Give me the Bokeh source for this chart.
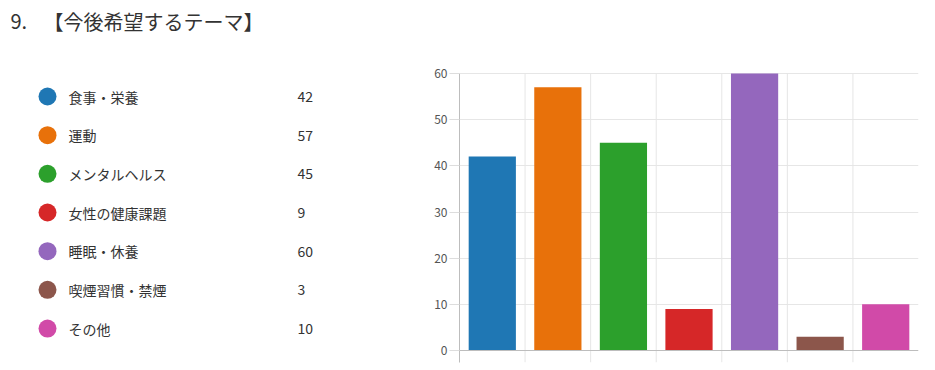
from bokeh.plotting import figure
from bokeh.layouts import row
from bokeh.models import Range1d, FixedTicker, ColumnDataSource
from bokeh.core.properties import value
from bokeh.embed import file_html
from bokeh.resources import INLINE

title_num = "9."
title_text = "【今後希望するテーマ】"
categories = ["食事・栄養", "運動", "メンタルヘルス", "女性の健康課題", "睡眠・休養", "喫煙習慣・禁煙", "その他"]
counts = [42, 57, 45, 9, 60, 3, 10]
colors = ["#1f77b4", "#e8710a", "#2ca02c", "#d62728", "#9467bd", "#8c564b", "#d14aa8"]
y_ticks = [0, 10, 20, 30, 40, 50, 60]

JP = "Noto Sans CJK JP"
n = len(categories)
H = 370
TOP60, ZERO, BOT = 73, 350, 362  # pixel rows of value 60, value 0, and frame bottom

# ---- left panel: title + legend (coordinates = pixels) ----
LW = 400
lf = figure(width=LW, height=H, x_range=Range1d(0, LW), y_range=Range1d(BOT, 0),
            output_backend="svg", toolbar_location=None,
            x_axis_location=None, y_axis_location=None,
            min_border_left=0, min_border_right=0, min_border_top=0, min_border_bottom=H - BOT)
lf.grid.visible = False
lf.outline_line_color = None

lf.text(x=[10], y=[21], text=[title_num], text_font=value(JP), text_font_size="20px",
        text_color="#333333", text_baseline="middle")
lf.text(x=[43], y=[21], text=[title_text], text_font=value(JP), text_font_size="20px",
        text_color="#333333", text_baseline="middle")

ys = [96 + i * 38.67 for i in range(n)]
src = ColumnDataSource(dict(y=ys, cat=categories, cnt=[str(c) for c in counts], col=colors,
                            xc=[47] * n, xt=[68] * n, xv=[297] * n))
lf.scatter(x="xc", y="y", size=18, fill_color="col", line_color=None, source=src)
lf.text(x="xt", y="y", text="cat", text_font=value(JP), text_font_size="14px",
        text_color="#333333", text_baseline="middle", source=src)
lf.text(x="xv", y="y", text="cnt", text_font=value(JP), text_font_size="14px",
        text_color="#333333", text_baseline="middle", source=src)

# ---- right panel: bar chart ----
RW = 935 - LW
ymax_tick = y_ticks[-1]
px_per_unit = (ZERO - TOP60) / float(ymax_tick)
ymin = -(BOT - ZERO) / px_per_unit
ymax = ymax_tick + TOP60 / px_per_unit
p = figure(width=RW, height=H, x_range=Range1d(0, n), y_range=Range1d(ymin, ymax),
           output_backend="svg", toolbar_location=None, x_axis_location=None,
           min_border_left=59, min_border_right=17, min_border_top=0, min_border_bottom=H - BOT)
p.outline_line_color = None
p.xgrid.visible = False
p.ygrid.ticker = FixedTicker(ticks=y_ticks[1:])
p.ygrid.grid_line_color = "#e6e6e6"

# category separators (vertical grid), stopping at the top tick
seps = list(range(1, n))
p.segment(x0=seps, y0=[ymin] * len(seps), x1=seps, y1=[ymax_tick] * len(seps),
          line_color="#e6e6e6", line_width=1)

xs = [i + 0.5 for i in range(n)]
p.vbar(x=xs, top=counts, width=0.72, fill_color=colors, line_color=None)
p.segment(x0=[0], y0=[0], x1=[n], y1=[0], line_color="#bdbdbd", line_width=1)

p.yaxis.ticker = FixedTicker(ticks=y_ticks)
p.yaxis.bounds = (ymin, ymax_tick)
p.yaxis.major_tick_out = 10
p.yaxis.major_tick_in = 0
p.yaxis.minor_tick_line_color = None
p.yaxis.major_tick_line_color = "#dddddd"
p.yaxis.axis_line_color = "#bdbdbd"
p.yaxis.major_label_standoff = 2
p.yaxis.major_label_text_font = JP
p.yaxis.major_label_text_font_size = "12px"
p.yaxis.major_label_text_color = "#555555"

layout = row(lf, p, spacing=0)
open("out.html", "w").write(file_html(layout, INLINE))
